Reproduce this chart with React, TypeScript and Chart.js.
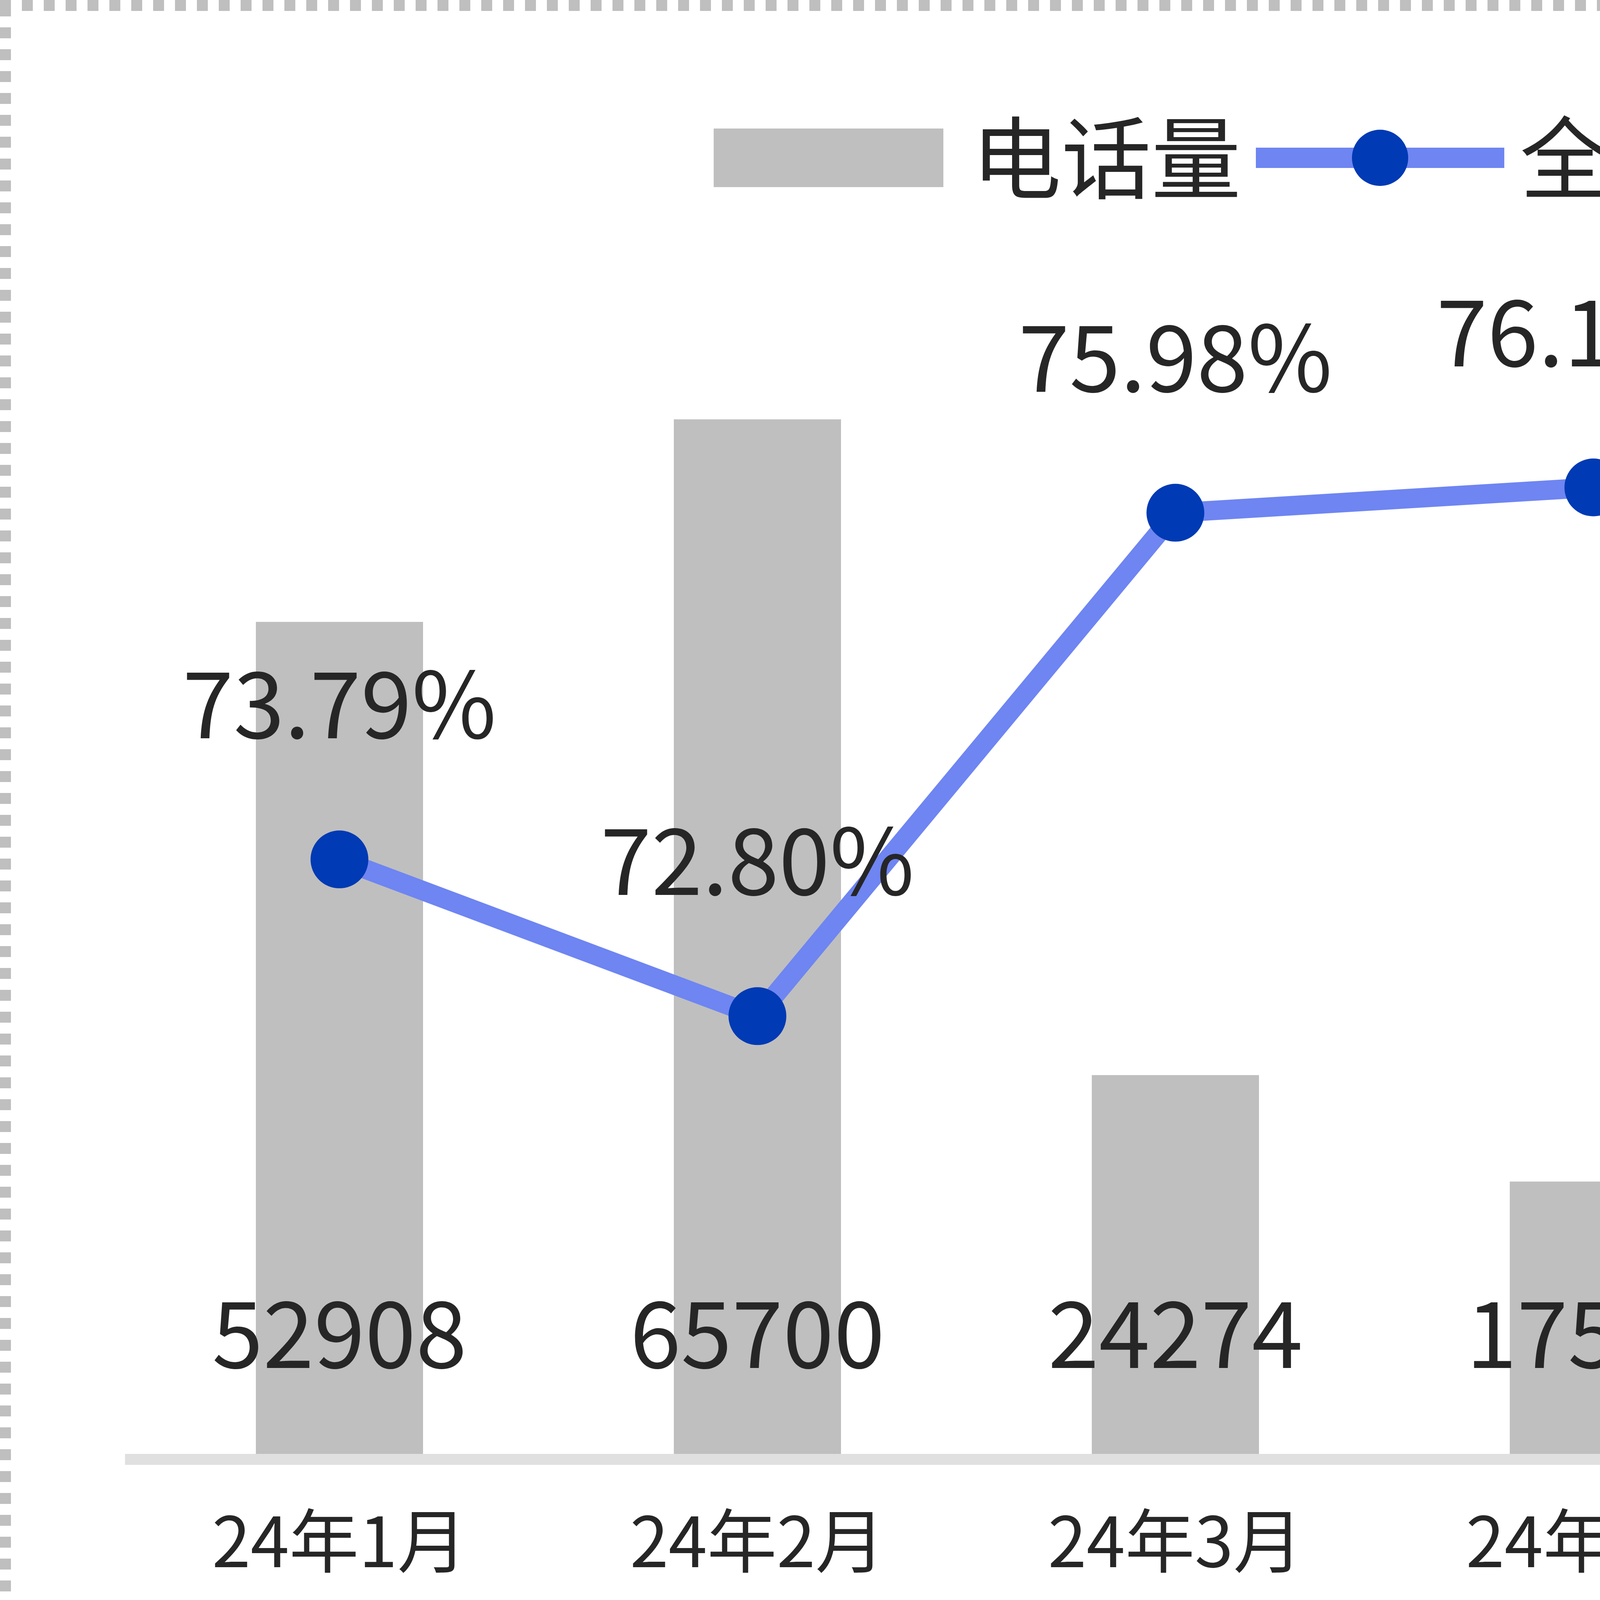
import { useEffect, useRef } from "react";
import { Chart, registerables } from "chart.js";

Chart.register(...registerables);

const months = ["24年1月", "24年2月", "24年3月", "24年4月", "24年5月", "24年6月"];
const callVolume = [52908, 65700, 24274, 17553, 17375, 11148];
const autoRate = [73.79, 72.8, 75.98, 76.14, 76.48, 76.32];
const seriesNames = ["电话量", "全自动解决率"];
const volumeRange = [0, 80000];
const rateRange = [70, 78];

const W = 7098;
const H = 4295;
const FONT = "'Noto Sans CJK SC', 'Noto Sans', sans-serif";
const TEXT = "#262626";
const BAR = "#bfbfbf";
const LINE = "#6e85f2";
const DOT = "#003ab4";
const AXIS = "#e0e0e0";
const FRAME = "#bfbfbf";

// white page + dotted grey frame round the edge
const framePlugin = {
  id: "frame",
  beforeDraw(chart: Chart) {
    const { ctx, width, height } = chart;
    ctx.save();
    ctx.fillStyle = "#ffffff";
    ctx.fillRect(0, 0, width, height);
    ctx.strokeStyle = FRAME;
    ctx.lineWidth = 28;
    ctx.setLineDash([28, 28]);
    ctx.beginPath();
    ctx.moveTo(0, 14);
    ctx.lineTo(width, 14);
    ctx.moveTo(0, height - 14);
    ctx.lineTo(width, height - 14);
    ctx.moveTo(14, 14);
    ctx.lineTo(14, height);
    ctx.moveTo(width - 14, 14);
    ctx.lineTo(width - 14, height);
    ctx.stroke();
    ctx.restore();
  },
};

// legend: grey box for the bars, line-with-dot for the rate
const legendPlugin = {
  id: "comboLegend",
  afterDraw(chart: Chart) {
    const { ctx, width } = chart;
    const size = 230;
    const boxW = 588;
    const boxH = 150;
    const lineW = 636;
    const cy = 404;
    ctx.save();
    ctx.font = `${size}px ${FONT}`;
    const t1 = ctx.measureText(seriesNames[0]).width;
    const t2 = ctx.measureText(seriesNames[1]).width;
    const total = boxW + 72 + t1 + 38 + lineW + 40 + t2;
    let x = width / 2 - total / 2;

    ctx.fillStyle = BAR;
    ctx.fillRect(x, cy - boxH / 2, boxW, boxH);
    x += boxW + 72;
    ctx.fillStyle = TEXT;
    ctx.textBaseline = "middle";
    ctx.fillText(seriesNames[0], x, cy);
    x += t1 + 38;

    ctx.strokeStyle = LINE;
    ctx.lineWidth = 52;
    ctx.beginPath();
    ctx.moveTo(x, cy);
    ctx.lineTo(x + lineW, cy);
    ctx.stroke();
    ctx.fillStyle = DOT;
    ctx.beginPath();
    ctx.arc(x + lineW / 2, cy, 72, 0, Math.PI * 2);
    ctx.fill();
    x += lineW + 40;

    ctx.fillStyle = TEXT;
    ctx.fillText(seriesNames[1], x, cy);
    ctx.restore();
  },
};

// value labels: counts near the bar base, rates above each point
const valueLabelPlugin = {
  id: "valueLabels",
  afterDatasetsDraw(chart: Chart) {
    const { ctx, chartArea } = chart;
    ctx.save();
    ctx.font = `235px ${FONT}`;
    ctx.fillStyle = TEXT;
    ctx.textAlign = "center";
    ctx.textBaseline = "alphabetic";
    chart.getDatasetMeta(1).data.forEach((bar, i) => {
      ctx.fillText(String(callVolume[i]), bar.x, chartArea.bottom - 234);
    });
    chart.getDatasetMeta(0).data.forEach((pt, i) => {
      ctx.fillText(autoRate[i].toFixed(2) + "%", pt.x, pt.y - 310);
    });
    ctx.restore();
  },
};

export default function App() {
  const canvasRef = useRef<HTMLCanvasElement | null>(null);

  useEffect(() => {
    document.body.style.margin = "0";
    document.body.style.overflow = "hidden";
    if (!canvasRef.current) return;

    const chart = new Chart(canvasRef.current, {
      type: "bar",
      data: {
        labels: months,
        datasets: [
          {
            type: "line",
            label: seriesNames[1],
            data: autoRate,
            yAxisID: "yRate",
            borderColor: LINE,
            borderWidth: 50,
            borderJoinStyle: "round",
            pointRadius: 74,
            pointHoverRadius: 74,
            pointBackgroundColor: DOT,
            pointBorderWidth: 0,
            tension: 0,
            order: 0,
          },
          {
            type: "bar",
            label: seriesNames[0],
            data: callVolume,
            yAxisID: "yVolume",
            backgroundColor: BAR,
            barPercentage: 0.4,
            categoryPercentage: 1,
            order: 1,
          },
        ],
      },
      options: {
        animation: false,
        responsive: true,
        maintainAspectRatio: false,
        devicePixelRatio: 1,
        events: [],
        layout: { padding: { left: 334, right: 344, top: 494, bottom: 0 } },
        plugins: {
          legend: { display: false },
          tooltip: { enabled: false },
        },
        scales: {
          x: {
            grid: { display: false, drawTicks: false },
            border: { display: true, color: AXIS, width: 28, z: 1 },
            ticks: {
              color: TEXT,
              font: { family: FONT, size: 178 },
              padding: 102,
              maxRotation: 0,
              autoSkip: false,
            },
            afterFit: (scale: any) => {
              scale.height = 559;
            },
          },
          yVolume: {
            type: "linear",
            axis: "y",
            position: "left",
            display: false,
            min: volumeRange[0],
            max: volumeRange[1],
          },
          yRate: {
            type: "linear",
            axis: "y",
            position: "right",
            display: false,
            min: rateRange[0],
            max: rateRange[1],
          },
        },
      },
      plugins: [framePlugin, legendPlugin, valueLabelPlugin],
    });

    return () => chart.destroy();
  }, []);

  return (
    <div style={{ width: W, height: H, position: "relative" }}>
      <canvas ref={canvasRef} />
    </div>
  );
}
